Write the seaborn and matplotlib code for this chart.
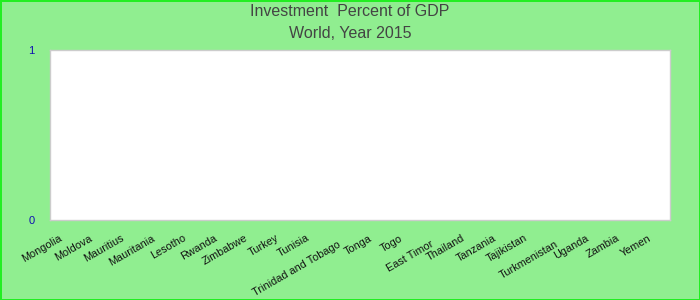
import matplotlib
matplotlib.use("Agg")
import matplotlib.pyplot as plt
import matplotlib.transforms as mtransforms
import seaborn as sns
import pandas as pd

countries = ["Mongolia", "Moldova", "Mauritius", "Mauritania", "Lesotho", "Rwanda",
             "Zimbabwe", "Turkey", "Tunisia", "Trinidad and Tobago", "Tonga", "Togo",
             "East Timor", "Thailand", "Tanzania", "Tajikistan", "Turkmenistan",
             "Uganda", "Zambia", "Yemen"]
values = [0, 0, 0, 0, 0, 0, 0, 0, 0, 0, 0, 0, 0, 0, 0, 0, 0, 0, 0, 0]
y_ticks = [0, 1]
title_line1 = "Investment  Percent of GDP"
title_line2 = "World, Year 2015"
staggered = ["Trinidad and Tobago", "East Timor", "Turkmenistan"]

sns.set_theme(style="white")
plt.rcParams["font.family"] = ["Liberation Sans", "DejaVu Sans"]

df = pd.DataFrame({"country": countries, "value": values})

fig = plt.figure(figsize=(7, 3), dpi=100)
fig.patch.set_facecolor("#90EE90")
fig.patch.set_edgecolor("#22EE22")
fig.patch.set_linewidth(2)

ax = fig.add_axes([50 / 700, 80 / 300, 620 / 700, 170 / 300])
ax.set_facecolor("white")
sns.barplot(data=df, x="country", y="value", ax=ax, color="#4472C4")

ax.set_ylim(0, 1)
ax.set_yticks(y_ticks)
ax.set_yticklabels([str(v) for v in y_ticks], color="#1010B0", fontsize=8)
ax.tick_params(axis="y", length=0, pad=11)
ax.set_xlim(-0.5, len(countries) - 0.5)
ax.set_xlabel("")
ax.set_ylabel("")
for s in ax.spines.values():
    s.set_color("#cccccc")
    s.set_linewidth(1)

ax.set_xticks(range(len(countries)))
ax.set_xticklabels(countries, rotation=30, ha="right", va="top",
                   rotation_mode="anchor", fontsize=7.8, color="#111111")
ax.tick_params(axis="x", length=0, pad=0)
for lbl in ax.get_xticklabels():
    dy = -19 if lbl.get_text() in staggered else -13
    off = mtransforms.ScaledTranslation(-7 / 100, dy / 100, fig.dpi_scale_trans)
    lbl.set_transform(lbl.get_transform() + off)

fig.text(0.5, 1 - 12 / 300, title_line1, ha="center", va="center",
         fontsize=11.5, color="#444444")
fig.text(0.5, 1 - 33 / 300, title_line2, ha="center", va="center",
         fontsize=11.5, color="#444444")

fig.savefig("out.png", dpi=100, facecolor=fig.get_facecolor(),
            edgecolor=fig.get_edgecolor())
